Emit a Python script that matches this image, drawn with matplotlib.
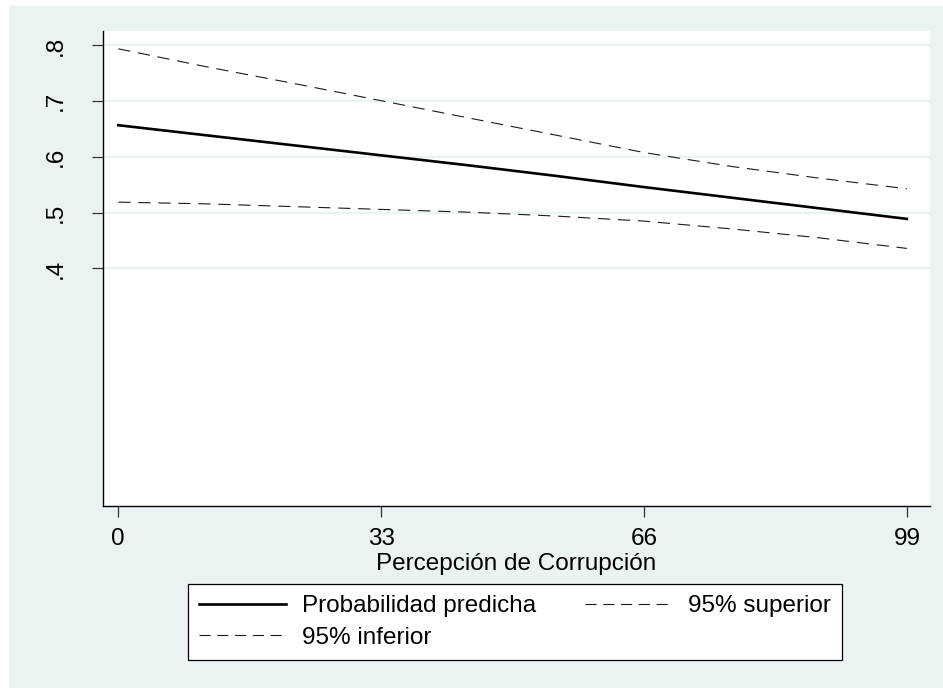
import matplotlib
matplotlib.use("Agg")
import matplotlib.pyplot as plt
from matplotlib.patches import Rectangle
from matplotlib.lines import Line2D

plt.rcParams['font.family'] = ['Liberation Sans', 'DejaVu Sans']

# predicted probability and 95% bounds by corruption perception
percepcion = [0, 11, 22, 33, 44, 55, 66, 77, 88, 99]
prob_predicha = [0.657, 0.639, 0.621, 0.603, 0.585, 0.566, 0.546, 0.527, 0.508, 0.489]
ic_superior = [0.794, 0.762, 0.732, 0.701, 0.670, 0.639, 0.608, 0.583, 0.562, 0.543]
ic_inferior = [0.519, 0.516, 0.511, 0.506, 0.501, 0.494, 0.485, 0.471, 0.455, 0.436]

xticks = [0, 33, 66, 99]
yticks = [0.4, 0.5, 0.6, 0.7, 0.8]
ylabels = ['.4', '.5', '.6', '.7', '.8']

W, H = 943, 688
bg = '#eaf2f3'
ink = '#1a1a1a'
fs = 17.5

fig = plt.figure(figsize=(W / 100, H / 100), dpi=100, facecolor='white')
fig.patches.append(Rectangle((9 / W, 0), 1 - 9 / W, 1 - 6 / H,
                             transform=fig.transFigure, facecolor=bg,
                             edgecolor='none', zorder=-10))

ax = fig.add_axes([103 / W, 1 - 506 / H, (930 - 103) / W, (506 - 31) / H])
ax.set_facecolor('white')

ax.plot(percepcion, prob_predicha, color='black', lw=1.9, zorder=3)
ax.plot(percepcion, ic_superior, color=ink, lw=0.8, dashes=(11, 7), zorder=3)
ax.plot(percepcion, ic_inferior, color=ink, lw=0.8, dashes=(11, 7), zorder=3)

ax.set_xlim(-1.92, 101.9)
ax.set_ylim(-0.026, 0.826)

ax.set_xticks(xticks)
ax.set_xticklabels([str(v) for v in xticks], fontsize=fs)
ax.set_yticks(yticks)
ax.set_yticklabels(ylabels, fontsize=fs, rotation=90, va='center')
ax.tick_params(axis='both', length=8, width=0.9, color='#333333')
ax.tick_params(axis='x', pad=8)
ax.tick_params(axis='y', pad=18)
ax.grid(axis='y', color=bg, lw=1.6, zorder=1)

for side in ['top', 'right']:
    ax.spines[side].set_visible(False)
for side in ['left', 'bottom']:
    ax.spines[side].set_linewidth(1.0)
    ax.spines[side].set_color('black')

ax.set_xlabel('Percepción de Corrupción', fontsize=fs, labelpad=2)

handles = [
    Line2D([], [], color='black', lw=1.9),
    Line2D([], [], color=ink, lw=0.8, dashes=(10, 6)),
    Line2D([], [], color=ink, lw=0.8, dashes=(10, 6)),
]
labels = ['Probabilidad predicha', '95% superior', '95% inferior']
# fill the legend row by row
order = [0, 2, 1]
leg = fig.legend([handles[i] for i in order], [labels[i] for i in order],
                 ncol=2, loc='center', bbox_to_anchor=(515 / W, 1 - 622 / H),
                 fontsize=fs, frameon=True, fancybox=False,
                 handlelength=3.6, handletextpad=0.65, columnspacing=2.0,
                 labelspacing=0.38, borderpad=0.45)
leg.get_frame().set_edgecolor('black')
leg.get_frame().set_facecolor('white')
leg.get_frame().set_alpha(1)
leg.get_frame().set_linewidth(0.9)

fig.savefig('out.png', dpi=100, facecolor='white')
